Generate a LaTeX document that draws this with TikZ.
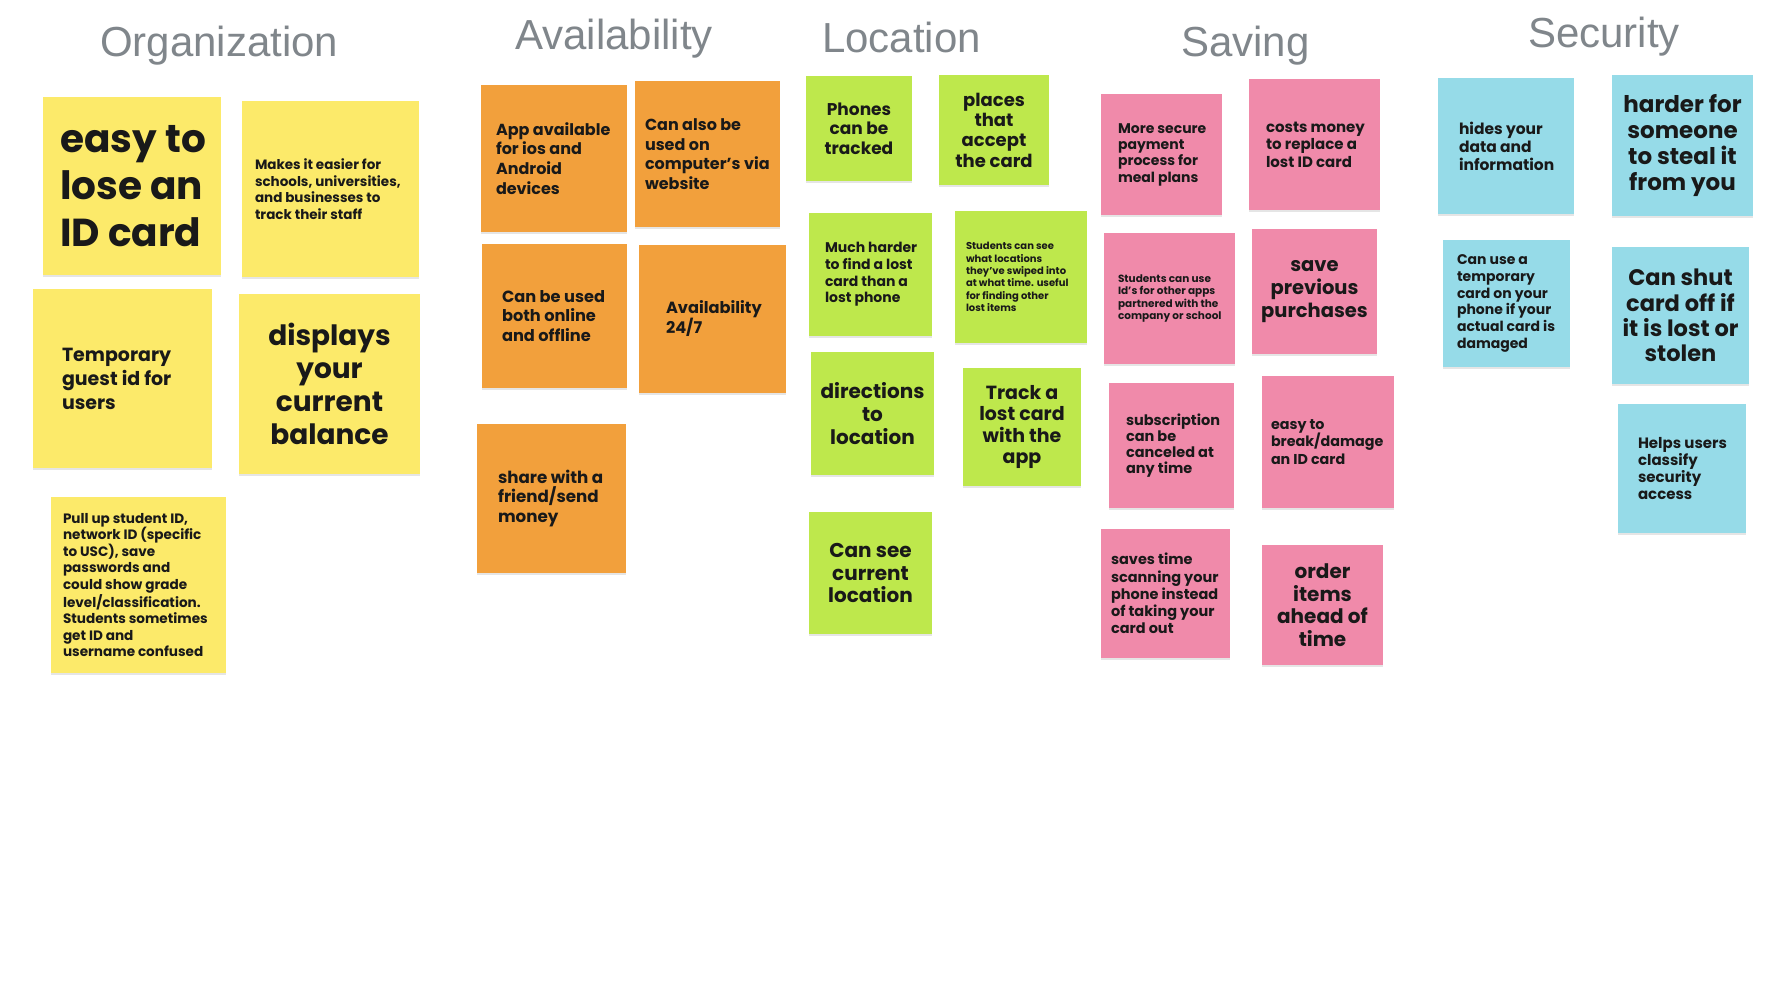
\documentclass[tikz,border=0pt]{standalone}
\usepackage{fontspec}
\setmainfont{Poppins}
\newfontfamily\headfont{Liberation Sans}
\usetikzlibrary{positioning,shadows}

\definecolor{noteyellow}{HTML}{FCEA6A}
\definecolor{noteorange}{HTML}{F2A03C}
\definecolor{notegreen}{HTML}{BEE84C}
\definecolor{notepink}{HTML}{F08AAA}
\definecolor{noteblue}{HTML}{96DBE8}
\definecolor{headgray}{HTML}{80868B}

\newcommand\notesize[2]{\bfseries\fontsize{#1}{#2}\selectfont}

\begin{document}
\begin{tikzpicture}[x=1pt, y=-1pt,
  sticky/.style n args={3}{fill=#1, minimum width=#2, minimum height=#3, inner sep=0pt,
    drop shadow={shadow xshift=0pt, shadow yshift=-2pt, opacity=0.2}},
  memo/.style 2 args={align=left, inner sep=0pt, text=black!90, font=\notesize{#1}{#2}},
  heading/.style={anchor=base west, inner sep=0pt, text=headgray, font=\headfont\fontsize{42}{50}\selectfont}]

% page
\fill[white] (0,0) rectangle (1784,1000);
\useasboundingbox (0,0) rectangle (1784,1000);

% column headings
\node[heading] (org)  at (100,57)  {Organization};
\node[heading] (avail) at (515,50) {Availability};
\node[heading] (loc)  at (822,53)  {Location};
\node[heading] (sav)  at (1181,57) {Saving};
\node[heading] (sec)  at (1528,48) {Security};

% Organization
\node[sticky={noteyellow}{178pt}{178pt}] (easy) at (132,186) {};
\node[memo={39}{47}, right=17pt of easy.west] (easy-txt) {easy to\\lose an\\ID card};
\node[sticky={noteyellow}{177pt}{176pt}] (staff) at (330.5,189) {};
\node[memo={13.5}{16.7}, right=13pt of staff.west] (staff-txt) {Makes it easier for\\schools, universities,\\and businesses to\\track their staff};
\node[sticky={noteyellow}{179pt}{179pt}] (guest) at (122.5,378.5) {};
\node[memo={19}{24}, right=29pt of guest.west] (guest-txt) {Temporary\\guest id for\\users};
\node[sticky={noteyellow}{181pt}{180pt}] (balance) at (329.5,384) {};
\node[memo={28}{33}, align=center] (balance-txt) at (balance) {displays\\your\\current\\balance};
\node[sticky={noteyellow}{175pt}{176pt}] (pullup) at (138.5,585) {};
\node[memo={13.6}{16.5}, right=12pt of pullup.west] (pullup-txt) {Pull up student ID,\\network ID (specific\\to USC), save\\passwords and\\could show grade\\level/classification.\\Students sometimes\\get ID and\\username confused};

% Availability
\node[sticky={noteorange}{146pt}{147pt}] (apps) at (554,158.5) {};
\node[memo={16}{19.7}, right=15pt of apps.west] (apps-txt) {App available\\for ios and\\Android\\devices};
\node[sticky={noteorange}{145pt}{146pt}] (website) at (707.5,154) {};
\node[memo={16}{19.5}, right=10pt of website.west] (website-txt) {Can also be\\used on\\computer's via\\website};
\node[sticky={noteorange}{145pt}{144pt}] (offline) at (554.5,316) {};
\node[memo={16.2}{19.5}, right=20pt of offline.west] (offline-txt) {Can be used\\both online\\and offline};
\node[sticky={noteorange}{147pt}{148pt}] (always) at (712.5,319) {};
\node[memo={16.2}{20}, right=27pt of always.west] (always-txt) {Availability\\24/7};
\node[sticky={noteorange}{149pt}{149pt}] (share) at (551.5,498.5) {};
\node[memo={16.7}{19.7}, right=21pt of share.west] (share-txt) {share with a\\friend/send\\money};

% Location
\node[sticky={notegreen}{106pt}{105pt}] (phones) at (859,128.5) {};
\node[memo={17}{19.5}, align=center] (phones-txt) at (phones) {Phones\\can be\\tracked};
\node[sticky={notegreen}{110pt}{110pt}] (places) at (994,130) {};
\node[memo={18}{20.3}, align=center] (places-txt) at (places) {places\\that\\accept\\the card};
\node[sticky={notegreen}{123pt}{123pt}] (harder) at (870.5,274.5) {};
\node[memo={14}{16.7}, right=16pt of harder.west] (harder-txt) {Much harder\\to find a lost\\card than a\\lost phone};
\node[sticky={notegreen}{132pt}{132pt}] (swiped) at (1021,277) {};
\node[memo={10}{12.4}, right=11pt of swiped.west] (swiped-txt) {Students can see\\what locations\\they've swiped into\\at what time. useful\\for finding other\\lost items};
\node[sticky={notegreen}{123pt}{123pt}] (directions) at (872.5,413.5) {};
\node[memo={20}{23}, align=center] (directions-txt) at (directions) {directions\\to\\location};
\node[sticky={notegreen}{118pt}{118pt}] (track) at (1022,427) {};
\node[memo={19}{21.3}, align=center] (track-txt) at (track) {Track a\\lost card\\with the\\app};
\node[sticky={notegreen}{123pt}{122pt}] (current) at (870.5,573) {};
\node[memo={20}{22.5}, align=center] (current-txt) at (current) {Can see\\current\\location};

% Saving
\node[sticky={notepink}{121pt}{121pt}] (mealplan) at (1161.5,154.5) {};
\node[memo={14}{16.3}, right=17pt of mealplan.west] (mealplan-txt) {More secure\\payment\\process for\\meal plans};
\node[sticky={notepink}{131pt}{131pt}] (replace) at (1314.5,144.5) {};
\node[memo={15}{17.5}, right=17pt of replace.west] (replace-txt) {costs money\\to replace a\\lost ID card};
\node[sticky={notepink}{131pt}{131pt}] (partner) at (1169.5,298.5) {};
\node[memo={10.5}{12.5}, right=14pt of partner.west] (partner-txt) {Students can use\\Id's for other apps\\partnered with the\\company or school};
\node[sticky={notepink}{125pt}{125pt}] (purchases) at (1314.5,291.5) {};
\node[memo={19.5}{23}, align=center] (purchases-txt) at (purchases) {save\\previous\\purchases};
\node[sticky={notepink}{125pt}{125pt}] (cancel) at (1171.5,445.5) {};
\node[memo={14.5}{16.2}, right=17pt of cancel.west] (cancel-txt) {subscription\\can be\\canceled at\\any time};
\node[sticky={notepink}{132pt}{132pt}] (damage) at (1328,442) {};
\node[memo={14.3}{17.5}, right=9pt of damage.west] (damage-txt) {easy to\\break/damage\\an ID card};
\node[sticky={notepink}{129pt}{129pt}] (scan) at (1165.5,593.5) {};
\node[memo={14.5}{17.2}, right=10pt of scan.west] (scan-txt) {saves time\\scanning your\\phone instead\\of taking your\\card out};
\node[sticky={notepink}{121pt}{120pt}] (order) at (1322.5,605) {};
\node[memo={20}{22.5}, align=center] (order-txt) at (order) {order\\items\\ahead of\\time};

% Security
\node[sticky={noteblue}{136pt}{136pt}] (hides) at (1506,146) {};
\node[memo={15.5}{18}, right=21pt of hides.west] (hides-txt) {hides your\\data and\\information};
\node[sticky={noteblue}{141pt}{141pt}] (steal) at (1682.5,145.5) {};
\node[memo={23}{26}, align=center] (steal-txt) at (steal) {harder for\\someone\\to steal it\\from you};
\node[sticky={noteblue}{127pt}{127pt}] (temporary) at (1506.5,303.5) {};
\node[memo={14}{16.7}, right=14pt of temporary.west] (temporary-txt) {Can use a\\temporary\\card on your\\phone if your\\actual card is\\damaged};
\node[sticky={noteblue}{137pt}{137pt}] (shutoff) at (1680.5,315.5) {};
\node[memo={22.5}{25.3}, align=center] (shutoff-txt) at (shutoff) {Can shut\\card off if\\it is lost or\\stolen};
\node[sticky={noteblue}{128pt}{129pt}] (classify) at (1682,468.5) {};
\node[memo={15}{17}, right=20pt of classify.west] (classify-txt) {Helps users\\classify\\security\\access};

\end{tikzpicture}
\end{document}
